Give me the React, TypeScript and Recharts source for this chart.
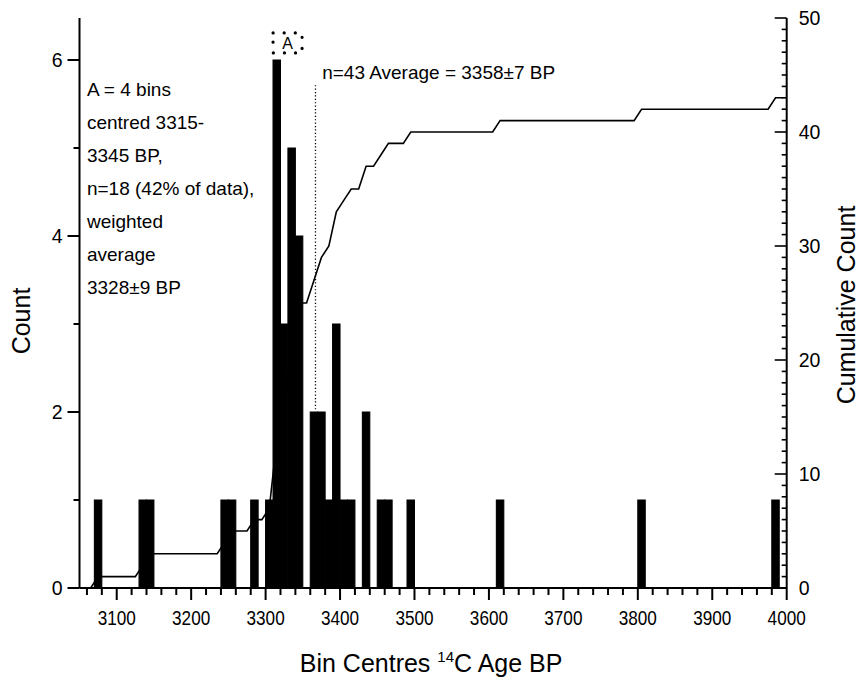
import React from 'react';
import {
  ComposedChart,
  Bar,
  Line,
  XAxis,
  YAxis,
  ReferenceLine,
  ReferenceArea,
  ReferenceDot,
} from 'recharts';

const FONT = '"Liberation Sans", Arial, Helvetica, sans-serif';

// Histogram bins (bin centres, 14C age BP) and counts
const binCentres = [3075, 3135, 3145, 3245, 3255, 3285, 3305, 3315, 3325, 3335, 3345, 3365, 3375, 3385, 3395, 3405, 3415, 3435, 3455, 3465, 3495, 3615, 3805, 3985];
const binCounts = [1, 1, 1, 1, 1, 1, 1, 6, 3, 5, 4, 2, 2, 1, 3, 1, 1, 2, 1, 1, 1, 1, 1, 1];

// Cumulative count curve (read at bin centres)
const cumCentres = [3055, 3065, 3075, 3125, 3135, 3145, 3235, 3245, 3255, 3275, 3285, 3295, 3305, 3315, 3325, 3335, 3345, 3355, 3365, 3375, 3385, 3395, 3405, 3415, 3425, 3435, 3445, 3455, 3465, 3485, 3495, 3605, 3615, 3795, 3805, 3975, 3985, 3995];
const cumCounts = [0, 0, 1, 1, 2, 3, 3, 4, 5, 5, 6, 6, 7, 13, 16, 21, 25, 25, 27, 29, 30, 33, 34, 35, 35, 37, 37, 38, 39, 39, 40, 40, 41, 41, 42, 42, 43, 43];

// Axis ticks
const xTicks: number[] = [];
for (let v = 3060; v <= 4000; v += 20) xTicks.push(v);
const leftTicks = [0, 1, 2, 3, 4, 5, 6];
const rightTicks: number[] = [];
for (let v = 0; v <= 50; v += 1) rightTicks.push(v);

// Annotations
const noteLines = ['A = 4 bins', 'centred 3315-', '3345 BP,', 'n=18 (42% of data),', 'weighted', 'average', '3328\u00B19 BP'];
const averageText = 'n=43 Average = 3358\u00B17 BP';
const averageX = 3367;
const clusterLabel = 'A';

const barData = binCentres.map((c, i) => ({ centre: c, count: binCounts[i] }));
const cumData = cumCentres.map((c, i) => ({ centre: c, cum: cumCounts[i] }));

const XTick = (props: any) => {
  const { x, y, payload } = props;
  const v = payload.value;
  const major = v % 100 === 0;
  return (
    <g>
      <line x1={x} x2={x} y1={y} y2={y + (major ? 12 : 7)} stroke="#000" strokeWidth={2} />
      {major && (
        <text
          transform={`translate(${x},${y + 36.5}) scale(0.88,1)`}
          textAnchor="middle"
          fontSize={19.5}
          fontFamily={FONT}
          fill="#000"
        >
          {v}
        </text>
      )}
    </g>
  );
};

const LeftTick = (props: any) => {
  const { x, y, payload } = props;
  const v = payload.value;
  const major = v % 2 === 0;
  return (
    <g>
      <line x1={x} x2={x - (major ? 12 : 6)} y1={y} y2={y} stroke="#000" strokeWidth={2} />
      {major && (
        <text x={x - 17} y={y + 7} textAnchor="end" fontSize={19.5} fontFamily={FONT} fill="#000">
          {v}
        </text>
      )}
    </g>
  );
};

const RightTick = (props: any) => {
  const { x, y, payload } = props;
  const v = payload.value;
  const major = v % 10 === 0;
  return (
    <g>
      <line x1={x} x2={x - (major ? 12 : 5)} y1={y} y2={y} stroke="#000" strokeWidth={1.6} />
      {major && (
        <text x={x + 12} y={y + 7} textAnchor="start" fontSize={19.5} fontFamily={FONT} fill="#000">
          {v}
        </text>
      )}
    </g>
  );
};

const NoteBlock = (props: any) => {
  const vb = props.viewBox || {};
  return (
    <g>
      {noteLines.map((t, i) => (
        <text key={i} x={vb.x} y={vb.y + i * 33} fontSize={19} fontFamily={FONT} fill="#000">
          {t}
        </text>
      ))}
    </g>
  );
};

const AverageNote = (props: any) => {
  const vb = props.viewBox || {};
  return (
    <text x={vb.x} y={vb.y} fontSize={19} fontFamily={FONT} fill="#000">
      {averageText}
    </text>
  );
};

const XTitle = (props: any) => {
  const vb = props.viewBox || {};
  return (
    <text x={vb.x + vb.width / 2 - 2} y={vb.y + 84} textAnchor="middle" fontSize={25} fontFamily={FONT} fill="#000">
      Bin Centres{' '}
      <tspan fontSize={15} dy={-10}>
        14
      </tspan>
      <tspan dy={10}>C Age BP</tspan>
    </text>
  );
};

const LeftTitle = (props: any) => {
  const vb = props.viewBox || {};
  const cx = vb.x + 30;
  const cy = vb.y + vb.height / 2 + 18;
  return (
    <text x={cx} y={cy} transform={`rotate(-90,${cx},${cy})`} textAnchor="middle" fontSize={25} fontFamily={FONT} fill="#000">
      Count
    </text>
  );
};

const RightTitle = (props: any) => {
  const vb = props.viewBox || {};
  const cx = vb.x + 68;
  const cy = vb.y + vb.height / 2 + 2;
  return (
    <text x={cx} y={cy} transform={`rotate(-90,${cx},${cy})`} textAnchor="middle" fontSize={25} fontFamily={FONT} fill="#000">
      Cumulative Count
    </text>
  );
};

export default function App() {
  return (
    <div style={{ position: 'absolute', left: 0, top: 0, width: 861, height: 679, background: '#fff' }}>
      <ComposedChart
        width={861}
        height={679}
        data={barData}
        margin={{ top: 18, right: 0, bottom: 0, left: 0 }}
      >
        <XAxis
          dataKey="centre"
          type="number"
          domain={[3050, 4000]}
          ticks={xTicks}
          interval={0}
          tickSize={0}
          tickMargin={0}
          tickLine={false}
          tick={<XTick />}
          axisLine={{ stroke: '#000', strokeWidth: 2 }}
          height={91}
          label={<XTitle />}
        />
        <YAxis
          yAxisId="left"
          orientation="left"
          type="number"
          domain={[0, 6.477]}
          ticks={leftTicks}
          interval={0}
          width={79.5}
          tickSize={0}
          tickMargin={0}
          tickLine={false}
          tick={<LeftTick />}
          axisLine={{ stroke: '#000', strokeWidth: 2 }}
          allowDataOverflow
          label={<LeftTitle />}
        />
        <YAxis
          yAxisId="right"
          orientation="right"
          type="number"
          domain={[0, 50]}
          ticks={rightTicks}
          interval={0}
          width={74.3}
          tickSize={0}
          tickMargin={0}
          tickLine={false}
          tick={<RightTick />}
          axisLine={{ stroke: '#000', strokeWidth: 2 }}
          label={<RightTitle />}
        />
        <Bar yAxisId="left" dataKey="count" fill="#000" stroke="#000" strokeWidth={1.1} barSize={7.4} isAnimationActive={false} />
        <Line
          yAxisId="right"
          data={cumData}
          dataKey="cum"
          type="linear"
          stroke="#000"
          strokeWidth={1.6}
          dot={false}
          activeDot={false}
          isAnimationActive={false}
        />
        <ReferenceLine
          yAxisId="left"
          segment={[
            { x: averageX, y: 2.03 },
            { x: averageX, y: 5.72 },
          ]}
          stroke="#000"
          strokeWidth={1.3}
          strokeDasharray="1.2 2.2"
        />
        <ReferenceArea
          yAxisId="left"
          x1={3310}
          x2={3349}
          y1={6.08}
          y2={6.307}
          fill="none"
          fillOpacity={0}
          stroke="#000"
          strokeWidth={3.2}
          strokeDasharray="0.1 11"
          strokeLinecap="round"
          label={{ value: clusterLabel, position: 'center', fontSize: 16, fill: '#000', fontFamily: FONT }}
        />
        <ReferenceDot yAxisId="left" x={3060} y={5.585} r={0} fill="none" stroke="none" label={<NoteBlock />} />
        <ReferenceDot yAxisId="left" x={3376} y={5.78} r={0} fill="none" stroke="none" label={<AverageNote />} />
      </ComposedChart>
    </div>
  );
}
